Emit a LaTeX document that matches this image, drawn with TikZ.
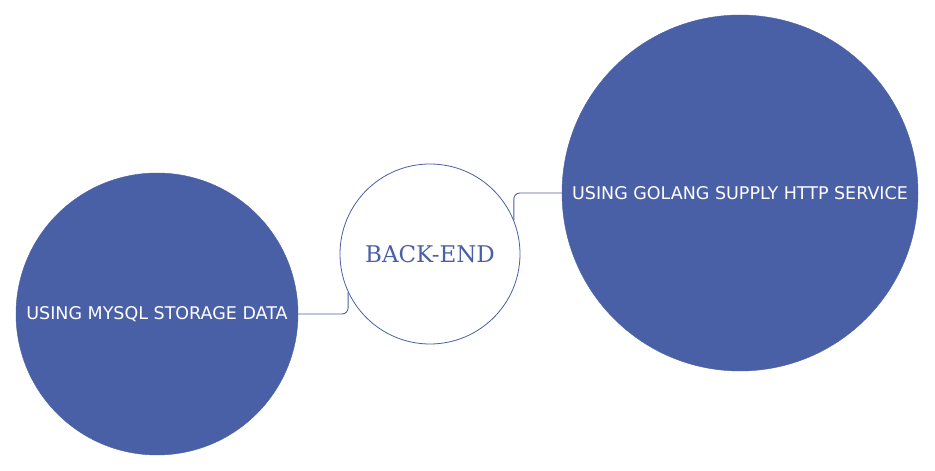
\documentclass[tikz,border=0pt]{standalone}
\usepackage{fontspec}
\setmainfont{DejaVu Sans}
\newfontfamily\slabfont{DejaVu Serif}
\usepackage{tikz}
\definecolor{bubbleblue}{RGB}{74,96,166}

\begin{document}
\begin{tikzpicture}[x=1pt,y=1pt]
\tikzset{bubble/.style={circle,fill=bubbleblue,draw=bubbleblue,text=white,inner sep=0pt,font=\fontsize{17.5}{19}\selectfont}}
\tikzset{hub/.style={circle,draw=bubbleblue,fill=white,text=bubbleblue,inner sep=0pt,line width=0.8pt,font=\slabfont\fontsize{23}{25}\selectfont}}
\tikzset{link/.style={draw=bubbleblue,line width=0.9pt,rounded corners=6pt}}
\useasboundingbox (0,0) rectangle (935,471);

\node[hub,minimum size=180pt] (backend) at (430,217) {BACK-END};
\node[bubble,minimum size=282pt] (mysql) at (157,157) {USING MYSQL STORAGE DATA};
\node[bubble,minimum size=356pt] (golang) at (740,278) {USING GOLANG SUPPLY HTTP SERVICE};

\draw[link] (mysql.east) -| (backend.205);
\draw[link] (golang.west) -| (backend.22);

\end{tikzpicture}
\end{document}
